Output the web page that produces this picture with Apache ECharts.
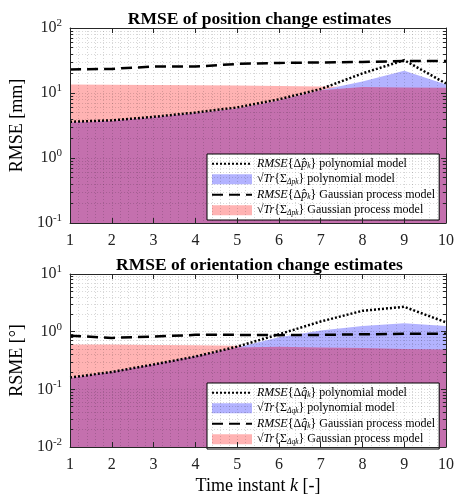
<!DOCTYPE html>
<html>
<head>
<meta charset="utf-8">
<script src="https://cdn.jsdelivr.net/npm/echarts@6/dist/echarts.min.js"></script>
<style>
  html, body { margin: 0; padding: 0; background: #fff; }
  #main { width: 457px; height: 496px; }
</style>
</head>
<body>
<div id="main"></div>
<script>
// time steps
var kSteps = [1, 2, 3, 4, 5, 6, 7, 8, 9, 10];

// position change [mm]
var posPolyRmse = [3.6, 3.8, 4.3, 5.0, 6.0, 8.0, 11.5, 20, 32, 14];
var posPolyStd  = [3.5, 3.7, 4.2, 4.9, 5.8, 7.7, 11, 15, 22, 13.5];
var posGpRmse   = [23, 23.5, 25.5, 25.5, 28, 29, 29.5, 30, 31, 31];
var posGpStd    = [13.5, 13.4, 13.3, 13.2, 13, 12.8, 12.6, 12.4, 12.2, 12];

// orientation change [deg]
var oriPolyRmse = [0.16, 0.2, 0.27, 0.37, 0.55, 0.9, 1.5, 2.3, 2.7, 1.45];
var oriPolyStd  = [0.155, 0.2, 0.27, 0.37, 0.53, 0.8, 1.05, 1.25, 1.4, 1.25];
var oriGpRmse   = [0.85, 0.78, 0.82, 0.88, 0.88, 0.87, 0.88, 0.9, 0.92, 0.92];
var oriGpStd    = [0.6, 0.6, 0.59, 0.58, 0.57, 0.55, 0.53, 0.52, 0.5, 0.49];

var serif = 'Liberation Serif';
var pink = '#ffb3b3', blue = '#b3b3ff', purple = '#c470ae';

function pairs(arr) {
    return kSteps.map(function (k, i) { return [k, arr[i]]; });
}
function overlap(a, b) {
    return kSteps.map(function (k, i) { return [k, Math.min(a[i], b[i])]; });
}

var gridLine = { show: true, lineStyle: { color: 'rgba(0,0,0,0.16)', type: [1, 2], width: 1 } };

function makeX(gi, pos, withLabels, name) {
    return {
        type: 'value', gridIndex: gi, position: pos, min: 1, max: 10, interval: 1, z: 5,
        name: name || '', nameLocation: 'middle', nameGap: 30,
        nameTextStyle: { fontFamily: serif, fontSize: 18, color: '#000',
            rich: { i: { fontFamily: serif, fontStyle: 'italic', fontSize: 18 } } },
        axisLine: { show: true, onZero: false, lineStyle: { color: '#262626', width: 1 } },
        axisTick: { show: true, inside: true, length: 5, lineStyle: { color: '#262626' } },
        axisLabel: { show: withLabels, fontFamily: serif, fontSize: 16, color: '#222', margin: 10 },
        splitLine: withLabels ? gridLine : { show: false },
        minorTick: { show: false, splitNumber: 5 },
        minorSplitLine: withLabels ? gridLine : { show: false }
    };
}

function makeY(gi, pos, lo, hi, withLabels, name) {
    return {
        type: 'log', logBase: 10, gridIndex: gi, position: pos, min: lo, max: hi, z: 5,
        name: name || '', nameLocation: 'middle', nameGap: 42,
        nameTextStyle: { fontFamily: serif, fontSize: 18, color: '#000' },
        axisLine: { show: true, lineStyle: { color: '#262626', width: 1 } },
        axisTick: { show: true, inside: true, length: 5, lineStyle: { color: '#262626' } },
        minorTick: { show: true, splitNumber: 9, length: 3, lineStyle: { color: '#262626' } },
        axisLabel: {
            show: withLabels, margin: 8, color: '#222',
            formatter: function (v) {
                return '{b|10}{s|' + Math.round(Math.log10(v)) + '}';
            },
            rich: {
                b: { fontFamily: serif, fontSize: 16, color: '#222' },
                s: { fontFamily: serif, fontSize: 11, color: '#222', verticalAlign: 'top', padding: [0, 0, 10, 0] }
            }
        },
        splitLine: withLabels ? gridLine : { show: false },
        minorSplitLine: withLabels ? gridLine : { show: false }
    };
}

var legendText = {
    posPolyRmse: '{i|RMSE}{Δ{i|p̂}{sub|k}} polynomial model',
    posPolyStd: '√{i|Tr}{Σ{sub|Δpk}} polynomial model',
    posGpRmse: '{i|RMSE}{Δ{i|p̂}{sub|k}} Gaussian process model',
    posGpStd: '√{i|Tr}{Σ{sub|Δpk}} Gaussian process model',
    oriPolyRmse: '{i|RMSE}{Δ{i|q̂}{sub|k}} polynomial model',
    oriPolyStd: '√{i|Tr}{Σ{sub|Δqk}} polynomial model',
    oriGpRmse: '{i|RMSE}{Δ{i|q̂}{sub|k}} Gaussian process model',
    oriGpStd: '√{i|Tr}{Σ{sub|Δqk}} Gaussian process model'
};

var noMarker = { color: 'transparent', borderWidth: 0, opacity: 0 };

function makeLegend(top, names) {
    return {
        orient: 'vertical', left: 207, top: top,
        itemWidth: 40, itemHeight: 10, itemGap: 2, padding: [3, 4, 3, 4],
        backgroundColor: '#fff', borderColor: '#000', borderWidth: 1,
        selectedMode: false,
        formatter: function (n) { return legendText[n]; },
        textStyle: {
            fontFamily: serif, fontSize: 12, color: '#000', lineHeight: 13.5,
            rich: {
                i: { fontFamily: serif, fontStyle: 'italic', fontSize: 12, lineHeight: 13.5 },
                sub: { fontFamily: serif, fontStyle: 'italic', fontSize: 7.5, lineHeight: 13.5, verticalAlign: 'bottom' }
            }
        },
        data: [
            { name: names[0], itemStyle: noMarker },
            { name: names[1], icon: 'rect', itemStyle: { color: blue } },
            { name: names[2], itemStyle: noMarker },
            { name: names[3], icon: 'rect', itemStyle: { color: pink } }
        ]
    };
}

function areaSeries(name, data, color, xi, yi, z) {
    return {
        name: name, type: 'line', xAxisIndex: xi, yAxisIndex: yi, data: data,
        symbol: 'none', z: z, silent: true,
        lineStyle: { width: 0, color: color },
        itemStyle: { color: color },
        areaStyle: { color: color, opacity: 1, origin: 'start' }
    };
}

function lineSeries(name, data, dash, xi, yi) {
    return {
        name: name, type: 'line', xAxisIndex: xi, yAxisIndex: yi, data: data,
        symbol: 'none', z: 4,
        lineStyle: { color: '#000', width: 2.5, type: dash },
        itemStyle: { color: '#000' }
    };
}

var myChart = echarts.init(document.getElementById('main'));

var option = {
    animation: false,
    title: [
        { text: 'RMSE of position change estimates', left: 254.5, textAlign: 'center', top: 5,
          textStyle: { fontFamily: serif, fontSize: 17.5, fontWeight: 'bold', color: '#000' } },
        { text: 'RMSE of orientation change estimates', left: 254.5, textAlign: 'center', top: 251,
          textStyle: { fontFamily: serif, fontSize: 17.5, fontWeight: 'bold', color: '#000' } }
    ],
    grid: [
        { left: 62, top: 28, width: 385, height: 195 },
        { left: 62, top: 274, width: 385, height: 177 }
    ],
    xAxis: [
        makeX(0, 'bottom', true),
        makeX(0, 'top', false),
        makeX(1, 'bottom', true, 'Time instant {i|k} [-]'),
        makeX(1, 'top', false)
    ],
    yAxis: [
        makeY(0, 'left', 0.1, 100, true, 'RMSE [mm]'),
        makeY(0, 'right', 0.1, 100, false),
        makeY(1, 'left', 0.01, 10, true, 'RSME [°]'),
        makeY(1, 'right', 0.01, 10, false)
    ],
    legend: [
        makeLegend(154, ['posPolyRmse', 'posPolyStd', 'posGpRmse', 'posGpStd']),
        makeLegend(383, ['oriPolyRmse', 'oriPolyStd', 'oriGpRmse', 'oriGpStd'])
    ],
    series: [
        areaSeries('posGpStd', pairs(posGpStd), pink, 0, 0, 1),
        areaSeries('posPolyStd', pairs(posPolyStd), blue, 0, 0, 2),
        areaSeries('posOverlap', overlap(posGpStd, posPolyStd), purple, 0, 0, 3),
        lineSeries('posPolyRmse', pairs(posPolyRmse), [2, 2], 0, 0),
        lineSeries('posGpRmse', pairs(posGpRmse), [11, 6], 0, 0),

        areaSeries('oriGpStd', pairs(oriGpStd), pink, 2, 2, 1),
        areaSeries('oriPolyStd', pairs(oriPolyStd), blue, 2, 2, 2),
        areaSeries('oriOverlap', overlap(oriGpStd, oriPolyStd), purple, 2, 2, 3),
        lineSeries('oriPolyRmse', pairs(oriPolyRmse), [2, 2], 2, 2),
        lineSeries('oriGpRmse', pairs(oriGpRmse), [11, 6], 2, 2)
    ]
};

myChart.setOption(option);
</script>
</body>
</html>
